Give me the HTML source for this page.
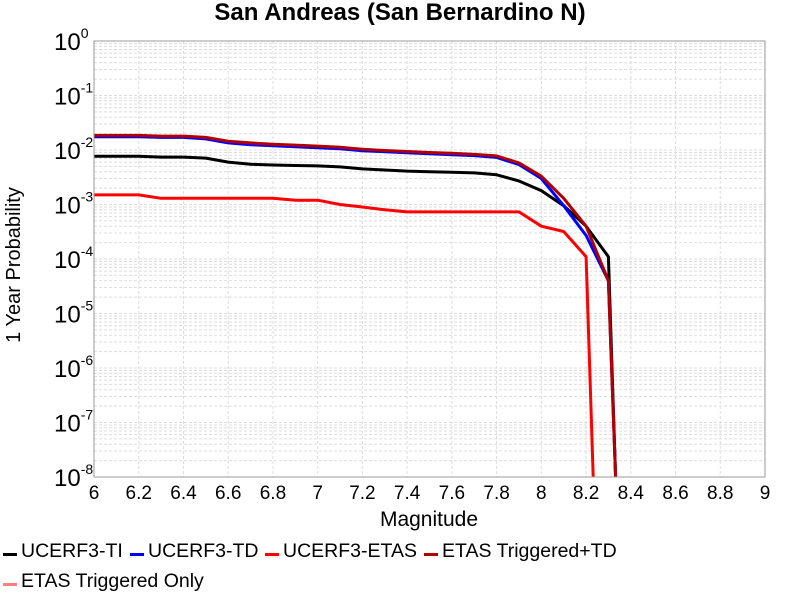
<!DOCTYPE html>
<html><head><meta charset="utf-8"><style>
html,body{margin:0;background:#fff;width:800px;height:600px;overflow:hidden;}
svg{display:block;font-family:"Liberation Sans",sans-serif;}
</style></head><body>
<svg id="chart" width="800" height="600" xmlns="http://www.w3.org/2000/svg">
<text x="400" y="20" text-anchor="middle" font-size="24" font-weight="bold">San Andreas (San Bernardino N)</text>
<text x="429" y="526" text-anchor="middle" font-size="21">Magnitude</text>
<text transform="translate(20,265) rotate(-90)" text-anchor="middle" font-size="20">1 Year Probability</text>
<g id="grid"></g><g id="series"></g><g id="axes"></g><g id="legend"></g>
</svg>
<script>
const mags = [6.0,6.1,6.2,6.3,6.4,6.5,6.6,6.7,6.8,6.9,7.0,7.1,7.2,7.3,7.4,7.5,7.6,7.7,7.8,7.9,8.0,8.1,8.2,8.3,8.4];
const ti   = [7.7e-3,7.7e-3,7.7e-3,7.4e-3,7.4e-3,7.1e-3,6.0e-3,5.5e-3,5.3e-3,5.2e-3,5.1e-3,4.9e-3,4.5e-3,4.3e-3,4.1e-3,4.0e-3,3.9e-3,3.8e-3,3.5e-3,2.7e-3,1.8e-3,9.5e-4,4.0e-4,1.1e-4,2.5e-17];
const td   = [1.75e-2,1.75e-2,1.75e-2,1.7e-2,1.7e-2,1.6e-2,1.35e-2,1.25e-2,1.2e-2,1.15e-2,1.1e-2,1.05e-2,9.7e-3,9.3e-3,8.9e-3,8.5e-3,8.2e-3,7.9e-3,7.3e-3,5.4e-3,3.0e-3,9.5e-4,2.7e-4,4.0e-5,2e-16];
const etas = [1.5e-3,1.5e-3,1.5e-3,1.3e-3,1.3e-3,1.3e-3,1.3e-3,1.3e-3,1.3e-3,1.2e-3,1.2e-3,1.0e-3,9.0e-4,8.0e-4,7.3e-4,7.3e-4,7.3e-4,7.3e-4,7.3e-4,7.3e-4,4.0e-4,3.2e-4,1.1e-4,2.5e-17];
const trigTd = [1.85e-2,1.85e-2,1.85e-2,1.8e-2,1.8e-2,1.7e-2,1.45e-2,1.35e-2,1.28e-2,1.23e-2,1.18e-2,1.12e-2,1.03e-2,9.8e-3,9.4e-3,9.0e-3,8.7e-3,8.3e-3,7.8e-3,5.8e-3,3.3e-3,1.3e-3,4.0e-4,4.0e-5,2e-16];
const xTicks = [6,6.2,6.4,6.6,6.8,7,7.2,7.4,7.6,7.8,8,8.2,8.4,8.6,8.8,9];
const yExps = [0,-1,-2,-3,-4,-5,-6,-7,-8];
const legendNames = ["UCERF3-TI","UCERF3-TD","UCERF3-ETAS","ETAS Triggered+TD","ETAS Triggered Only"];

const L=94,R=765,T=41,B=477;
const NS="http://www.w3.org/2000/svg";
const xs=v=>L+(v-6)/3*(R-L);
const ys=v=>T+(-Math.log10(v))/8*(B-T);
function mk(tag,attrs,parent){const e=document.createElementNS(NS,tag);for(const k in attrs)e.setAttribute(k,attrs[k]);parent.appendChild(e);return e;}
const grid=document.getElementById('grid'),axes=document.getElementById('axes'),ser=document.getElementById('series'),leg=document.getElementById('legend');
mk('rect',{x:L,y:T,width:R-L,height:B-T,fill:'#fff'},grid);
for(let d=0;d<8;d++){for(let m=1;m<=9;m++){const v=m*Math.pow(10,-(d+1));const y=ys(v);
 const ln=mk('line',{x1:L,x2:R,y1:y,y2:y,stroke:'#ddd','stroke-width':1,'stroke-dasharray':'3,2'},grid);
 
 }}
xTicks.forEach(t=>{const x=xs(t);
 const ln=mk('line',{x1:x,x2:x,y1:T,y2:B,stroke:'#ddd','stroke-width':1,'stroke-dasharray':'3,2'},grid);
 
 
 const tx=mk('text',{x:x,y:499,'text-anchor':'middle','font-size':19},axes);tx.textContent=String(t);
 
 });
yExps.forEach(e=>{const y=ys(Math.pow(10,e));
 const tx=mk('text',{x:54,y:y+9,'font-size':24},axes);
 
 
 tx.appendChild(document.createTextNode('10'));
 const sp=mk('tspan',{dy:-12,'font-size':14},tx);sp.textContent=String(e);});
mk('rect',{x:L,y:T,width:R-L,height:B-T,fill:'none',stroke:'#999','stroke-width':1},axes);
function draw(vals,color,name){
 const raw=vals.map((v,i)=>[xs(mags[i]),ys(v)]);
 const pts=[];
 for(let i=0;i<raw.length;i++){const [x,y]=raw[i];
  if(y<=B){pts.push([x,y]);continue;}
  if(i>0&&raw[i-1][1]<=B){const [x0,y0]=raw[i-1];const f=(B-y0)/(y-y0);pts.push([x0+f*(x-x0),B]);}
  break;}
 const p=mk('polyline',{points:pts.map(q=>q[0].toFixed(1)+','+q[1].toFixed(1)).join(' '),fill:'none',stroke:color,'stroke-width':3,'stroke-linejoin':'round'},ser);
 
 }
draw(ti,'#000','series-ucerf3-ti');
draw(td,'#0000ff','series-ucerf3-td');
draw(etas,'#ff0000','series-ucerf3-etas');
draw(trigTd,'#b00000','series-etas-triggered-td');
const legColors=['#000','#0000ff','#ff0000','#b00000','#ff7f7f'];
const legPos=[[3,557],[130,557],[265,557],[424,557],[3,587]];
legendNames.forEach((n,i)=>{const [x,y]=legPos[i];
 const g=mk('g',{},leg);
 
 
 mk('rect',{x:x,y:y-4,width:14,height:3,fill:legColors[i]},g);
 const t=mk('text',{x:x+18,y:y,'font-size':19.5},g);t.textContent=n;});
</script>
</body></html>
